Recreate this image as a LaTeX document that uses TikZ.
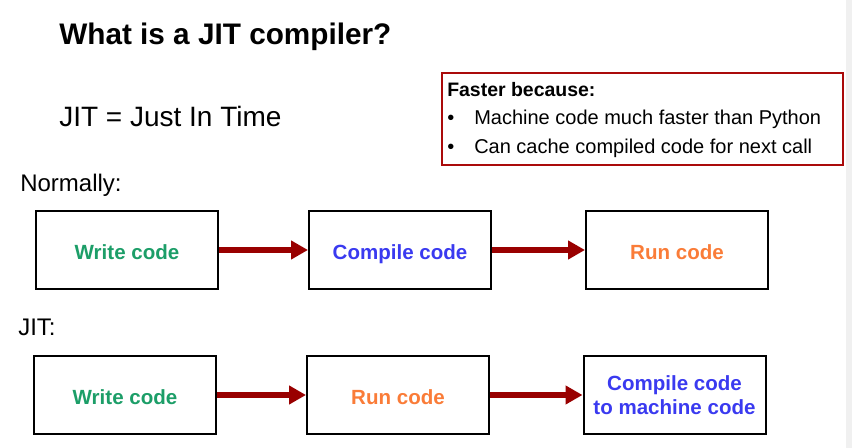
\documentclass[tikz,border=0pt]{standalone}
\usepackage{fontspec}
\setmainfont{Liberation Sans}
\usetikzlibrary{arrows.meta}

\definecolor{darkred}{RGB}{153,0,0}
\definecolor{boxred}{RGB}{170,10,10}
\definecolor{codegreen}{RGB}{28,158,104}
\definecolor{codeblue}{RGB}{58,58,240}
\definecolor{codeorange}{RGB}{250,124,56}
\definecolor{stripgray}{RGB}{240,240,240}

\tikzset{
  stagebox/.style={draw=black, line width=1.5pt, fill=white,
    minimum width=136.5pt, minimum height=59pt, inner sep=0pt,
    font=\fontsize{15.4}{18}\selectfont\bfseries},
  oneline/.style={stagebox, text height=14.8pt, text depth=0pt},
  twoline/.style={stagebox, align=center},
  flow/.style={draw=darkred, line width=4.5pt,
    -{Triangle[length=12.75pt,width=13.5pt]}},
  label/.style={anchor=base west, inner sep=0pt}
}

\begin{document}
\begin{tikzpicture}[x=0.75pt, y=-0.75pt]
  % page and right-hand strip
  \fill[white] (0,0) rectangle (852,448);
  \fill[stripgray] (846,0) rectangle (852,448);
  \useasboundingbox (0,0) rectangle (852,448);

  % headings
  \node[label, font=\fontsize{22.3}{26}\selectfont\bfseries] (title) at (59,45) {What is a JIT compiler?};
  \node[label, font=\fontsize{21}{25}\selectfont] (acro) at (59,127) {JIT = Just In Time};
  \node[label, font=\fontsize{18}{22}\selectfont] (normal) at (20,192) {Normally:};
  \node[label, font=\fontsize{18}{22}\selectfont] (jit) at (18,336) {JIT:};

  % reasons box
  \node[draw=boxred, line width=1.5pt, anchor=north west, inner sep=0pt,
        minimum width=300.75pt, minimum height=69pt] (why) at (441,72) {};
  \node[label, font=\fontsize{14.6}{18}\selectfont\bfseries] (whyhead) at (447,97) {Faster because:};
  \node[label, font=\fontsize{15}{18}\selectfont] (b1) at (447,125) {•};
  \node[label, font=\fontsize{15}{18}\selectfont] (t1) at (474,125) {Machine code much faster than Python};
  \node[label, font=\fontsize{15}{18}\selectfont] (b2) at (447,154) {•};
  \node[label, font=\fontsize{15}{18}\selectfont] (t2) at (474,154) {Can cache compiled code for next call};

  % usual pipeline
  \node[oneline, text=codegreen]  (n1) at (127,250) {Write code};
  \node[oneline, text=codeblue]   (n2) at (400,250) {Compile code};
  \node[oneline, text=codeorange] (n3) at (677,250) {Run code};
  \draw[flow] (n1.east) -- (n2.west);
  \draw[flow] (n2.east) -- (n3.west);

  % JIT pipeline
  \node[oneline, text=codegreen]  (j1) at (125,395) {Write code};
  \node[oneline, text=codeorange] (j2) at (398,395) {Run code};
  \node[twoline, text=codeblue]   (j3) at (674.5,395) {Compile code\\to machine code};
  \draw[flow] (j1.east) -- (j2.west);
  \draw[flow] (j2.east) -- (j3.west);
\end{tikzpicture}
\end{document}
